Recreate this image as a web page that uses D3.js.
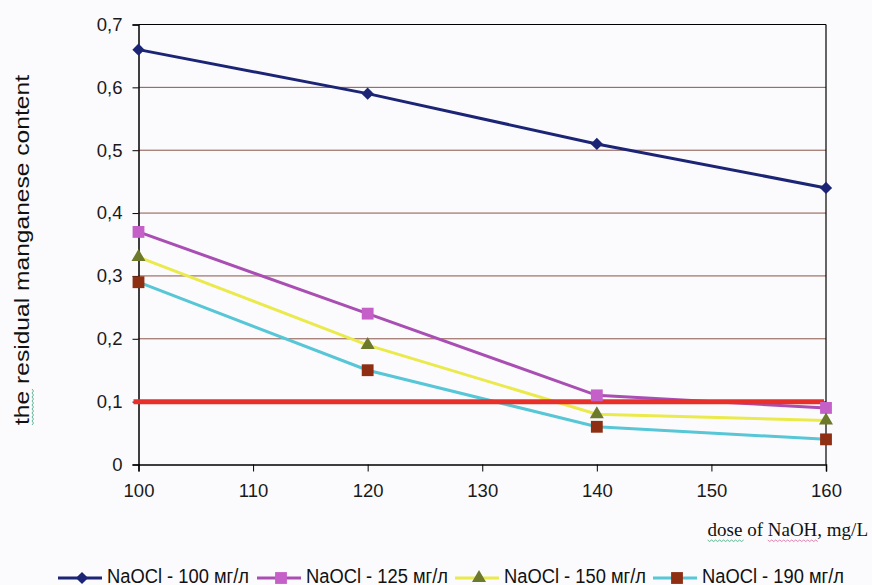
<!DOCTYPE html>
<html>
<head>
<meta charset="utf-8">
<script src="https://cdn.jsdelivr.net/npm/d3@7"></script>
<style>
  body { margin: 0; background: #fbfbfd; }
  svg { display: block; font-family: "Liberation Sans", Arial, sans-serif; }
</style>
</head>
<body>
<svg id="chart" width="872" height="585"></svg>
<script>
const doses = [100, 120, 140, 160];
const naocl100 = [0.66, 0.59, 0.51, 0.44];
const naocl125 = [0.37, 0.24, 0.11, 0.09];
const naocl150 = [0.33, 0.19, 0.08, 0.07];
const naocl190 = [0.29, 0.15, 0.06, 0.04];
const limitValue = 0.1;
const xTicks = [100, 110, 120, 130, 140, 150, 160];
const yTicks = [0, 0.1, 0.2, 0.3, 0.4, 0.5, 0.6, 0.7];
const seriesNames = ["NaOCl - 100 мг/л", "NaOCl - 125 мг/л", "NaOCl - 150 мг/л", "NaOCl - 190 мг/л"];

// diamond = square turned by 45 degrees
const series = [
    { name: seriesNames[0], values: naocl100, line: "#1c2575", marker: "#1c2575", symbol: d3.symbolSquare, size: 75, rot: 45 },
    { name: seriesNames[1], values: naocl125, line: "#a94fb3", marker: "#c560c8", symbol: d3.symbolSquare, size: 140, rot: 0 },
    { name: seriesNames[2], values: naocl150, line: "#eaea4c", marker: "#6d7a2b", symbol: d3.symbolTriangle, size: 85, rot: 0 },
    { name: seriesNames[3], values: naocl190, line: "#57c6d6", marker: "#8e2f14", symbol: d3.symbolSquare, size: 140, rot: 0 }
];

const margin = { top: 24.5, right: 46, bottom: 120.5, left: 138.5 };
const width = 872 - margin.left - margin.right;
const height = 585 - margin.top - margin.bottom;

const svg = d3.select("#chart");
const g = svg.append("g").attr("transform", `translate(${margin.left}, ${margin.top})`);

const x = d3.scaleLinear().domain([100, 160]).range([0, width]);
const y = d3.scaleLinear().domain([0, 0.7]).range([height, 0]);

// gridlines
g.append("g")
    .selectAll("line")
    .data(yTicks.filter(d => d > 0 && d < 0.7))
    .join("line")
    .attr("x1", 0).attr("x2", width)
    .attr("y1", d => y(d)).attr("y2", d => y(d))
    .attr("stroke", "#8a5448")
    .attr("stroke-width", 1);

// frame top/right
g.append("line").attr("x1", 0).attr("x2", width).attr("y1", 0).attr("y2", 0)
    .attr("stroke", "#000").attr("stroke-width", 1.2);
g.append("line").attr("x1", width).attr("x2", width).attr("y1", 0).attr("y2", height)
    .attr("stroke", "#000").attr("stroke-width", 1.2);

const fmt = d => d === 0 ? "0" : d.toFixed(1).replace(".", ",");

const xAxis = g.append("g")
    .attr("transform", `translate(0, ${height})`)
    .call(d3.axisBottom(x).tickValues(xTicks).tickSize(7).tickPadding(12).tickFormat(d3.format("d")));
const yAxis = g.append("g")
    .call(d3.axisLeft(y).tickValues(yTicks).tickSize(6).tickPadding(10).tickFormat(fmt));

[xAxis, yAxis].forEach(a => {
    a.select(".domain").attr("stroke", "#000").attr("stroke-width", 1.5);
    a.selectAll(".tick line").attr("stroke", "#000").attr("stroke-width", 1);
    a.selectAll("text").attr("font-size", 18.5).attr("fill", "#1a1a1a")
        .attr("font-family", "'Liberation Sans', Arial, sans-serif");
});

// series lines
const lineGen = d3.line().x((d, i) => x(doses[i])).y(d => y(d));
series.forEach(s => {
    g.append("path")
        .datum(s.values)
        .attr("fill", "none")
        .attr("stroke", s.line)
        .attr("stroke-width", 3)
        .attr("d", lineGen);
});

// limit line
g.append("line")
    .attr("x1", x(100) - 5).attr("x2", x(160) - 2)
    .attr("y1", y(limitValue)).attr("y2", y(limitValue))
    .attr("stroke", "#e8302a")
    .attr("stroke-width", 5);

// markers
series.forEach(s => {
    g.append("g")
        .selectAll("path")
        .data(s.values)
        .join("path")
        .attr("transform", (d, i) => `translate(${x(doses[i])}, ${y(d)}) rotate(${s.rot})`)
        .attr("d", d3.symbol().type(s.symbol).size(s.size))
        .attr("fill", s.marker);
});

// wavy spell-check underline
function squiggle(x0, x1, y0, color) {
    let d = `M${x0},${y0}`;
    for (let xx = x0, k = 0; xx < x1; xx += 2, k++) d += `L${xx + 2},${y0 + (k % 2 ? 0 : 1.5)}`;
    return svg.append("path").attr("d", d).attr("fill", "none").attr("stroke", color).attr("stroke-width", 0.8);
}

// axis titles
const yTitle = svg.append("text")
    .attr("transform", "translate(29, 250) rotate(-90)")
    .attr("text-anchor", "middle")
    .attr("font-size", 20)
    .attr("textLength", 350)
    .attr("lengthAdjust", "spacingAndGlyphs")
    .attr("fill", "#111")
    .text("the residual manganese content");
// "the" underline, drawn vertical then rotated with the title
{
    const len = 350 * yTitle.node().getSubStringLength(0, 3) / yTitle.node().getComputedTextLength();
    const sq = squiggle(-175, -175 + len, 3, "#3aa37a");
    sq.attr("transform", "translate(29, 250) rotate(-90)");
}

const xTitle = svg.append("text")
    .attr("x", 868).attr("y", 536)
    .attr("text-anchor", "end")
    .attr("font-family", "'Liberation Serif', 'Times New Roman', serif")
    .attr("font-size", 19)
    .attr("fill", "#111")
    .text("dose of NaOH, mg/L");
{
    const n = xTitle.node();
    const start = 868 - n.getComputedTextLength();
    squiggle(start, start + n.getSubStringLength(0, 4), 540, "#3aa37a");
    const a = n.getSubStringLength(0, 8);
    squiggle(start + a, start + a + n.getSubStringLength(8, 4), 540, "#d06a9a");
}

// legend
const legend = svg.append("g").attr("transform", "translate(0, 578)");
const legendX = [58, 257, 455, 653];
series.forEach((s, i) => {
    const item = legend.append("g").attr("transform", `translate(${legendX[i]}, 0)`);
    item.append("line").attr("x1", 0).attr("x2", 44).attr("y1", 0).attr("y2", 0)
        .attr("stroke", s.line).attr("stroke-width", 3);
    item.append("path")
        .attr("transform", `translate(24, 0) rotate(${s.rot})`)
        .attr("d", d3.symbol().type(s.symbol).size(s.size))
        .attr("fill", s.marker);
    item.append("text")
        .attr("x", 49).attr("y", 4.5)
        .attr("font-size", 19.5)
        .attr("textLength", 142)
        .attr("lengthAdjust", "spacingAndGlyphs")
        .attr("fill", "#111")
        .text(s.name);
});
</script>
</body>
</html>
